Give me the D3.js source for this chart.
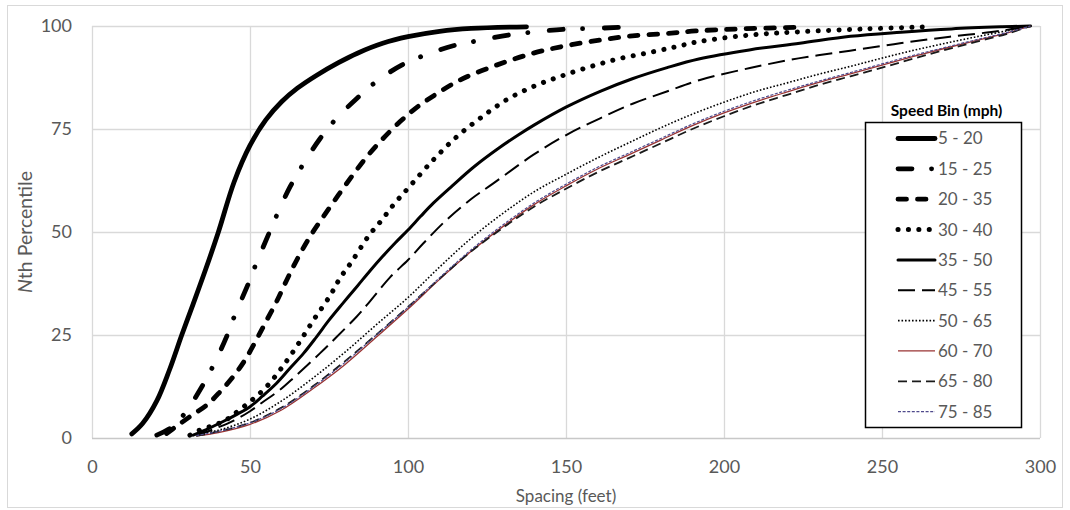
<!DOCTYPE html>
<html><head><meta charset="utf-8">
<script src="https://cdn.jsdelivr.net/npm/d3@7"></script>
<style>
html,body{margin:0;padding:0;background:#fff;}
svg{display:block;font-family:Lato,"Open Sans",sans-serif;}
</style></head>
<body><svg id="chart" width="1070" height="510"></svg>
<script>
// ---- data ----
const seriesNames = ["5 - 20","15 - 25","20 - 35","30 - 40","35 - 50","45 - 55","50 - 65","60 - 70","65 - 80","75 - 85"];
const xTicks = [0,50,100,150,200,250,300];
const yTicks = [0,25,50,75,100];

const bin5_20 = [[12.6,1],[16,3.5],[20.5,9],[24.5,16.5],[28.4,25],[32,32.5],[36,41],[40,50],[45,62.2],[50,71],[55,77.2],[60,81.6],[65,84.9],[71,88],[78,91.1],[84,93.4],[92,95.8],[100,97.4],[110,98.7],[120,99.4],[137.5,99.8]];
const bin15_25 = [[20.5,0.7],[25,2.5],[29.4,6],[34.2,11.7],[38.4,17.6],[42.6,24.6],[45.3,30],[49.5,37.5],[52.1,42.6],[55.8,49.3],[59,55],[62.7,61],[67.2,66.9],[72.2,72.7],[77.4,77.6],[83.8,82.4],[90.3,86.7],[98,90.5],[106,93.1],[114.3,95.2],[123.3,96.6],[131.7,97.8],[140.7,98.6],[149,99.2],[158,99.4],[168,99.7]];
const bin20_35 = [[23.6,1.1],[27,3],[31,5.2],[36.3,8],[40.5,11.2],[44.7,14.9],[48.4,18.9],[52,23.8],[55.3,28.6],[58.4,33.1],[61.6,38.3],[65,43.5],[69,48.9],[73,53.5],[78,59],[82.7,64],[87,68.3],[92,72.6],[97.5,76.8],[101.7,79.6],[106,82],[116.5,86.9],[128,90.5],[139.6,93.4],[150,95.2],[161,96.6],[171,97.6],[182,98.2],[191,98.8],[205,99.3],[225,99.7]];
const bin30_40 = [[31,0.7],[34,1.9],[39,3.2],[42.6,4.5],[45.3,6],[50.3,9],[55.3,12.5],[60,17],[65,22.5],[70,28.5],[75.3,34.5],[78.5,38.8],[82.2,42.8],[87.4,48.9],[91.7,52.9],[95.4,56.6],[100,60.6],[108,67.5],[115.4,73.1],[122.8,77.6],[131,82],[139.6,85.3],[148,87.7],[157.6,90.1],[167,92.1],[176.6,93.6],[185,95],[192,96.2],[208,97.8],[224,98.6],[245,99.3],[265,99.8]];
const bin35_50 = [[32,0.7],[36,2],[41.5,4],[46,5.8],[50,7.6],[54,10.2],[58.4,13.3],[62.5,16.8],[67,20.6],[71,24.5],[75,28.6],[79.5,32.8],[84,36.9],[88,40.6],[92,44.1],[96,47.4],[100,50.5],[104,53.8],[108,57],[114,61.2],[121,65.9],[129,70.5],[135,73.6],[140,76],[150,80.3],[161,84.2],[171,87.2],[182,89.9],[192,92],[208,94.2],[224,95.8],[240,97.5],[256,98.5],[272,99.3],[288,99.8],[297,100]];
const bin45_55 = [[33,0.6],[38,2],[45,4.3],[50,6.5],[54.2,8.8],[59.5,11.7],[64.2,14.9],[72.2,20.6],[77,24.2],[83.8,29.5],[87,32.3],[94.3,39],[100,43.2],[104.8,47.2],[112,52.8],[120,58],[127,61.8],[139.6,68.7],[150.2,73.6],[160.8,77.6],[171.3,81.2],[181.9,84.1],[192.4,86.9],[208.2,89.8],[224,92.2],[239.9,94],[255.7,95.8],[271.5,97.4],[287.3,98.8],[297,100]];
const bin50_65 = [[32,0.7],[40,1.9],[50,4.6],[60,9],[70,14.6],[80,20.8],[90,27.5],[100,34.1],[110,41.5],[120,48.5],[130,54.5],[140,59.8],[150,64],[160,68],[170,71.7],[180,75.3],[190,78.6],[200,81.5],[210,84.1],[220,86.2],[230,88.3],[240,90.2],[250,92.2],[260,94.1],[270,95.8],[280,97.4],[290,98.9],[297,100]];
const bin60_70 = [[33,0.5],[40,1.3],[50,3.3],[60,6.8],[70,12],[80,17.8],[90,24.5],[100,31.3],[110,38.5],[120,45.3],[130,51.3],[140,56.7],[150,61.2],[160,65.3],[170,68.8],[180,72.3],[190,75.8],[200,78.9],[210,81.6],[220,84],[230,86.3],[240,88.4],[250,90.5],[260,92.6],[270,94.6],[280,96.5],[290,98.4],[297,100]];
const bin65_80 = [[33,0.5],[40,1.6],[50,3.7],[60,7.4],[70,12.6],[80,18.6],[90,25.1],[100,31.8],[110,38.7],[120,45.3],[130,51],[140,56.2],[150,60.5],[160,64.5],[170,68],[180,71.5],[190,75],[200,78.1],[210,80.9],[220,83.3],[230,85.7],[240,87.8],[250,89.9],[260,92.1],[270,94.2],[280,96.2],[290,98.2],[297,100]];
const bin75_85 = [[33,0.6],[40,1.6],[50,3.7],[60,7.2],[70,12.4],[80,18.3],[90,25],[100,31.7],[110,38.9],[120,45.7],[130,51.7],[140,57.1],[150,61.6],[160,65.7],[170,69.2],[180,72.7],[190,76.2],[200,79.3],[210,82],[220,84.4],[230,86.6],[240,88.7],[250,90.8],[260,92.9],[270,94.8],[280,96.7],[290,98.5],[297,100]];

const allSeries = [bin5_20,bin15_25,bin20_35,bin30_40,bin35_50,bin45_55,bin50_65,bin60_70,bin65_80,bin75_85];

// ---- styles (separate from data) ----
const styles = [
  {w:4.8, c:"#000", dash:null, cap:"round"},
  {w:4.8, c:"#000", dash:"14,19.5,0.1,21.5", cap:"round"},
  {w:4.8, c:"#000", dash:"8.5,11", cap:"round"},
  {w:5, c:"#000", dash:"0.1,10.3", cap:"round"},
  {w:3, c:"#000", dash:null, cap:"round"},
  {w:2, c:"#000", dash:"17,7", cap:"butt"},
  {w:1.6, c:"#000", dash:"1.6,1.9", cap:"butt"},
  {w:1.3, c:"#993333", dash:null, cap:"butt"},
  {w:1.8, c:"#1a1a1a", dash:"9,5", cap:"butt"},
  {w:1.2, c:"#4f4a8c", dash:"3,1.6", cap:"butt"}
];

const svg = d3.select("#chart");
svg.append("rect").attr("x",0).attr("y",0).attr("width",1070).attr("height",510).attr("fill","#fff");
svg.append("rect").attr("x",7.5).attr("y",5.5).attr("width",1055).attr("height",502)
  .attr("fill","none").attr("stroke","#d9d9d9").attr("stroke-width",1);

const x = d3.scaleLinear().domain([0,300]).range([92,1040]);
const y = d3.scaleLinear().domain([0,100]).range([438,26]);

// gridlines
const grid = svg.append("g");
grid.selectAll(".vg").data(xTicks).join("line")
  .attr("x1",d=>Math.round(x(d))+0.5).attr("x2",d=>Math.round(x(d))+0.5)
  .attr("y1",y(100)).attr("y2",y(0)).attr("stroke","#d9d9d9").attr("stroke-width",1.3);
grid.selectAll(".hg").data(yTicks).join("line")
  .attr("x1",x(0)).attr("x2",x(300))
  .attr("y1",d=>Math.round(y(d))+0.5).attr("y2",d=>Math.round(y(d))+0.5)
  .attr("stroke",d=>d===0?"#c8c8c8":"#d9d9d9").attr("stroke-width",1.3);

// axes (labels only)
const xAxis = svg.append("g").attr("transform",`translate(0,${y(0)})`)
  .call(d3.axisBottom(x).tickValues(xTicks).tickSize(0).tickPadding(22));
const yAxis = svg.append("g").attr("transform",`translate(${x(0)},0)`)
  .call(d3.axisLeft(y).tickValues(yTicks).tickSize(0).tickPadding(20));
[xAxis,yAxis].forEach(a=>{
  a.select(".domain").remove();
  a.selectAll("text").attr("fill","#595959").attr("font-size",18).attr("font-family","Lato,'Open Sans',sans-serif");
});

// axis titles
svg.append("text").attr("x",x(150)).attr("y",502).attr("text-anchor","middle")
  .attr("fill","#595959").attr("font-size",17).text("Spacing (feet)");
const yt = svg.append("text").attr("transform","translate(32,232) rotate(-90)").attr("text-anchor","middle")
  .attr("fill","#595959").attr("font-size",19.5);
yt.append("tspan").attr("font-style","italic").text("N");
yt.append("tspan").text("th Percentile");

// series lines
const line = d3.line().x(d=>x(d[0])).y(d=>y(d[1])).curve(d3.curveCatmullRom.alpha(0.5));
const lg = svg.append("g").attr("fill","none");
allSeries.forEach((s,i)=>{
  const st = styles[i];
  lg.append("path").attr("d",line(s))
    .attr("stroke",st.c).attr("stroke-width",st.w)
    .attr("stroke-dasharray",st.dash).attr("stroke-linecap",st.cap).attr("stroke-linejoin","round");
});

// legend
const legend = svg.append("g");
legend.append("rect").attr("x",865.5).attr("y",122.5).attr("width",156).attr("height",305)
  .attr("fill","#fff").attr("stroke","#000").attr("stroke-width",1.5);
legend.append("text").attr("x",946.5).attr("y",116).attr("text-anchor","middle")
  .attr("font-weight","bold").attr("font-size",15.5).attr("fill","#000").text("Speed Bin (mph)");
seriesNames.forEach((n,i)=>{
  const st = styles[i];
  const yy = 138.5 + i*30.35;
  legend.append("line").attr("x1",898).attr("x2",935).attr("y1",yy).attr("y2",yy)
    .attr("stroke",st.c).attr("stroke-width",st.w).attr("stroke-dasharray",st.dash).attr("stroke-linecap",st.cap);
  legend.append("text").attr("x",938).attr("y",yy).attr("dy","0.35em")
    .attr("fill","#595959").attr("font-size",17).text(n);
});
</script></body></html>
